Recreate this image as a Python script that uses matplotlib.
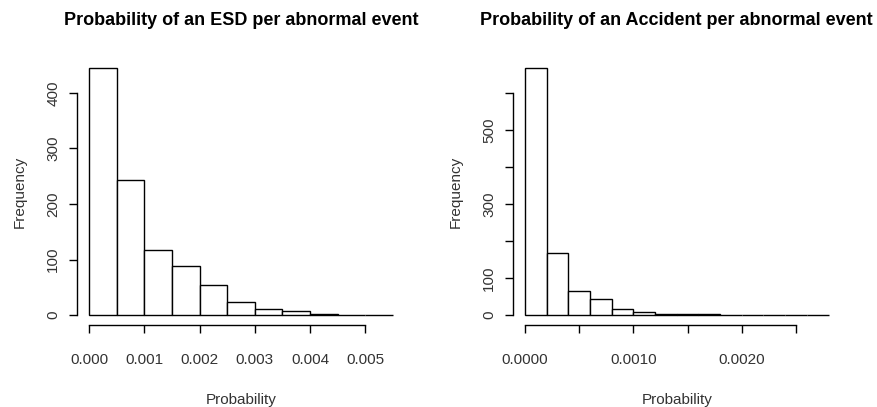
import numpy as np
import matplotlib
matplotlib.use("Agg")
import matplotlib.pyplot as plt

# histogram data
esd_width = 0.0005
esd_counts = [444, 244, 117, 88, 54, 23, 11, 8, 2, 1, 1]
esd_xticks = [0.000, 0.001, 0.002, 0.003, 0.004, 0.005]
esd_xlabels = ["0.000", "0.001", "0.002", "0.003", "0.004", "0.005"]
esd_yticks = [0, 100, 200, 300, 400]
esd_ylabels = ["0", "100", "200", "300", "400"]

acc_width = 0.0002
acc_counts = [668, 167, 66, 43, 17, 9, 2, 4, 4, 1, 1, 0, 0, 1]
acc_xticks = [0.0000, 0.0005, 0.0010, 0.0015, 0.0020, 0.0025]
acc_xlabels = ["0.0000", "", "0.0010", "", "0.0020", ""]
acc_yticks = [0, 100, 200, 300, 400, 500, 600]
acc_ylabels = ["0", "100", "", "300", "", "500", ""]

TXT = "#333333"
W, H = 878, 407


def px_rect(left, top, right, bottom):
    return [left / W, 1 - bottom / H, (right - left) / W, (bottom - top) / H]


def r_hist(ax, width, counts, xticks, xlabels, yticks, ylabels, title):
    counts = np.array(counts)
    edges = np.arange(len(counts) + 1) * width
    ax.bar(edges[:-1], counts, width=width, align="edge",
           facecolor="white", edgecolor="black", linewidth=1.0)
    xr = edges[-1] - edges[0]
    ax.set_xlim(edges[0] - 0.04 * xr, edges[-1] + 0.04 * xr)
    ym = counts.max()
    ax.set_ylim(-0.04 * ym, ym * 1.04)

    for s in ["top", "right"]:
        ax.spines[s].set_visible(False)
    for s in ["left", "bottom"]:
        ax.spines[s].set_linewidth(1.0)
    ax.spines["bottom"].set_bounds(xticks[0], xticks[-1])
    ax.spines["left"].set_bounds(yticks[0], yticks[-1])

    ax.set_xticks(xticks)
    ax.set_xticklabels(xlabels)
    ax.set_yticks(yticks)
    ax.set_yticklabels(ylabels, rotation=90, va="center")
    ax.tick_params(direction="out", length=6, width=1.0, labelsize=11,
                   labelcolor=TXT)
    ax.tick_params(axis="x", pad=14)
    ax.tick_params(axis="y", pad=6)

    ax.set_xlabel("Probability", fontsize=11, color=TXT, labelpad=19)
    ax.set_ylabel("Frequency", fontsize=11, color=TXT, labelpad=14)
    ax.set_title(title, fontsize=13, fontweight="bold", pad=24)


plt.rcParams["font.family"] = ["Liberation Sans", "DejaVu Sans"]
fig = plt.figure(figsize=(W / 100, H / 100), dpi=100)

ax1 = fig.add_axes(px_rect(77, 58.5, 405, 325))
r_hist(ax1, esd_width, esd_counts, esd_xticks, esd_xlabels,
       esd_yticks, esd_ylabels, "Probability of an ESD per abnormal event")

ax2 = fig.add_axes(px_rect(512.7, 58.5, 840.7, 325))
r_hist(ax2, acc_width, acc_counts, acc_xticks, acc_xlabels,
       acc_yticks, acc_ylabels, "Probability of an Accident per abnormal event")

fig.savefig("out.png", dpi=100)
